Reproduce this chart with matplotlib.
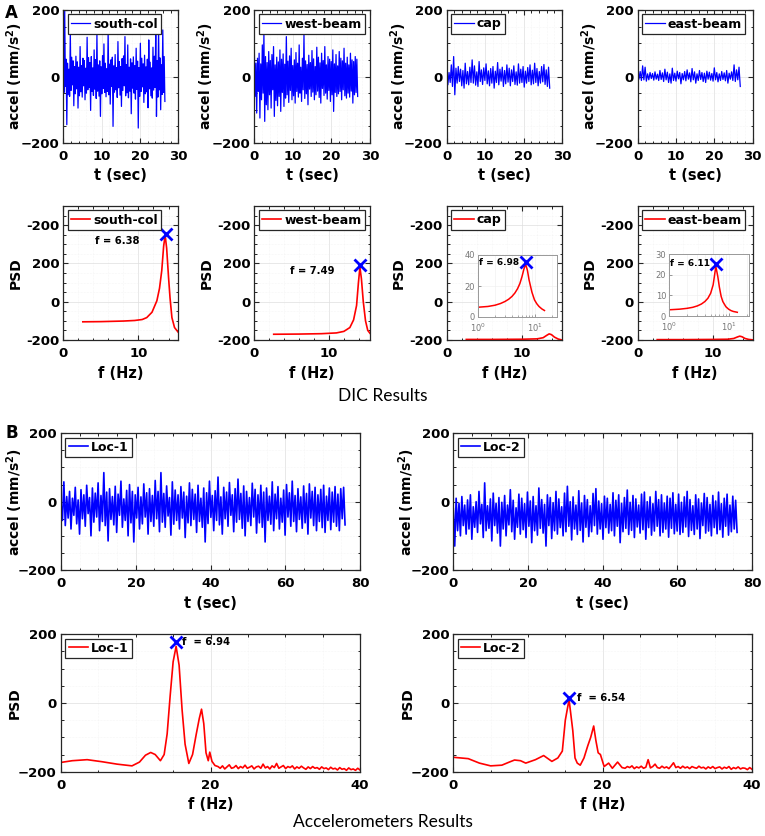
import numpy as np
import matplotlib
matplotlib.use("Agg")
import matplotlib.pyplot as plt
from matplotlib.ticker import AutoMinorLocator

plt.rcParams['font.family'] = 'DejaVu Sans'
plt.rcParams['font.weight'] = 'bold'
plt.rcParams['mathtext.fontset'] = 'dejavusans'
plt.rcParams['mathtext.default'] = 'bf'

# ---- DIC acceleration records (mm/s^2) ----
dic_names = ['south-col', 'west-beam', 'cap', 'east-beam']
dic_tend = [26.5, 26.8, 26.8, 26.8]

south_col = [
    35, -48, 200, -30, 52, -145, 40, -55, 22, -60,
    130, -42, 58, -25, 47, -88, 30, -52, 61, -37,
    44, -95, 28, -58, 90, -46, 33, -62, 55, -28,
    48, -70, 25, -50, 118, -40, 57, -33, 42, -102,
    60, -45, 26, -57, 80, -38, 51, -66, 130, -44,
    35, -59, 47, -120, 29, -52, 63, -36, 98, -48,
    40, -61, 24, -45, 140, -55, 37, -83, 50, -30,
    58, -150, 32, -47, 66, -40, 27, -63, 105, -34,
    45, -56, 30, -90, 54, -42, 62, -28, 120, -58,
    36, -49, 95, -64, 28, -44, 53, -112, 41, -35,
    59, -50, 33, -68, 85, -39, 46, -155, 27, -60,
    100, -45, 55, -31, 38, -78, 64, -52, 29, -46,
    52, -94, 110, -37, 43, -58, 26, -65, 88, -41,
    61, -33, 150, -120, 48, -62, 145, -40, 56, -100,
    35, -54, 140, -48, 60, -75]

west_beam = [
    85, -60, 40, -110, 55, -45, 70, -125, 38, -70,
    95, -50, 130, -135, 60, -85, 42, -100, 75, -55,
    48, -95, 66, -40, 90, -120, 35, -72, 58, -88,
    44, -60, 80, -105, 52, -48, 68, -90, 37, -65,
    120, -55, 46, -78, 62, -42, 85, -70, 33, -58,
    50, -80, 72, -45, 40, -62, 95, -50, 28, -75,
    55, -40, 125, -66, 47, -52, 36, -85, 64, -38,
    42, -60, 78, -47, 53, -70, 30, -55, 88, -44,
    58, -63, 41, -80, 70, -36, 48, -57, 90, -50,
    35, -68, 60, -42, 52, -75, 45, -55, 80, -105,
    38, -48, 66, -60, 32, -52, 75, -45, 55, -70,
    47, -40, 85, -58, 40, -65, 58, -50, 35, -62,
    70, -44, 50, -80, 45, -55, 60, -48, 52, -60]

cap = [
    20, -25, 12, -18, 35, -30, 60, -55, 25, -20,
    30, -15, 22, -28, 18, -35, 40, -22, 15, -25,
    28, -18, 50, -20, 32, -26, 14, -30, 45, -15,
    20, -24, 26, -12, 38, -22, 17, -28, 24, -20,
    30, -35, 16, -18, 42, -25, 22, -14, 28, -30,
    18, -22, 35, -17, 25, -28, 20, -15, 32, -24,
    14, -26, 38, -20, 22, -18, 30, -32, 16, -20,
    27, -15, 35, -25, 19, -22, 40, -18, 24, -28,
    15, -20, 30, -16, 36, -24, 20, -30, 28, -35]

east_beam = [
    10, -8, 15, -12, 32, -10, 28, -14, 8, -10,
    12, -6, 9, -11, 14, -8, 7, -12, 18, -9,
    11, -15, 22, -10, 13, -18, 8, -20, 25, -12,
    10, -14, 16, -7, 12, -22, 9, -10, 15, -13,
    20, -8, 11, -16, 24, -10, 14, -20, 8, -12,
    18, -9, 12, -15, 10, -18, 16, -8, 13, -11,
    9, -14, 26, -10, 12, -16, 8, -12, 15, -9,
    11, -13, 18, -20, 10, -8, 14, -12, 35, -15,
    20, -10, 28, -30]

# ---- DIC PSD curves ----
sc_f = [2.6, 5, 8, 9.5, 10.5, 11.1, 11.8, 12.45, 12.8, 13.1, 13.35, 13.55, 13.75, 14.0, 14.2, 14.45, 14.8, 15.3]
sc_p = [-105, -104, -101, -98, -93, -83, -55, 5, 70, 163, 290, 347, 280, 128, 20, -83, -135, -160]
wb_f = [2.6, 6, 9, 11, 12, 12.8, 13.3, 13.7, 13.95, 14.15, 14.35, 14.6, 14.9, 15.2, 15.5]
wb_p = [-170, -169, -167, -163, -155, -135, -95, -20, 100, 180, 120, 0, -100, -150, -165]
cp_f = [2.6, 6, 10, 12, 12.8, 13.3, 13.6, 13.9, 14.3, 14.8, 15.3]
cp_p = [-197, -197, -196, -194, -188, -175, -168, -172, -185, -195, -200]
eb_f = [2.6, 6, 10, 12, 12.8, 13.3, 13.6, 13.9, 14.3, 14.8, 15.3]
eb_p = [-198, -198, -197, -196, -192, -184, -180, -183, -192, -197, -199]
dic_xmax = [15.3, 15.5, 15.3, 15.3]
dic_peak = [(13.6, 356), (14.2, 190), None, None]
dic_ftext = ['f = 6.38', 'f = 7.49', None, None]
dic_ftext_pos = [(7.2, 316), (7.75, 159), None, None]

# insets (log-frequency zoom of cap and east-beam)
cap_in_f = [1, 1.5, 2, 2.5, 3, 3.5, 4, 4.5, 5, 5.5, 6, 6.5, 6.98, 7.5, 8, 9, 10, 11, 12, 13.5, 15]
cap_in_p = [6.3, 6.8, 7.6, 8.7, 10, 11.5, 13.3, 15.5, 18.2, 21.5, 26, 31, 34, 30, 24, 16, 11, 8.5, 6.8, 5.2, 4.2]
eb_in_f = [1, 1.5, 2, 2.5, 3, 3.5, 4, 4.5, 5, 5.5, 6.11, 6.6, 7, 7.5, 8, 9, 10, 11, 12, 14]
eb_in_p = [3.0, 3.3, 3.7, 4.2, 4.9, 5.8, 7.0, 8.6, 11, 15, 24, 19, 14, 9.5, 7, 4.5, 3.3, 2.6, 2.2, 1.8]

# ---- Accelerometer records ----
loc1 = [
    -5, -55, 58, -70, 15, -48, 30, -80, 10, -40,
    42, -65, 5, -95, 35, -50, 20, -72, 48, -35,
    12, -100, 40, -60, 25, -45, 55, -85, 18, -58,
    85, -70, 28, -115, 38, -52, 15, -68, 45, -90,
    22, -40, 60, -75, 8, -55, 33, -100, 50, -62,
    30, -118, 20, -48, 42, -80, 14, -65, 52, -45,
    26, -95, 38, -58, 18, -72, 62, -50, 30, -88,
    85, -60, 24, -75, 46, -42, 12, -98, 58, -66,
    34, -55, 20, -80, 44, -48, 28, -105, 16, -62,
    55, -70, 36, -52, 22, -90, 48, -58, 10, -75,
    40, -118, 26, -64, 60, -46, 18, -85, 32, -55,
    72, -68, 14, -95, 42, -50, 28, -72, 56, -40,
    20, -88, 38, -60, 66, -52, 24, -78, 46, -100,
    30, -58, 12, -70, 54, -45, 36, -92, 20, -62,
    48, -75, 28, -118, 40, -55, 16, -66, 58, -85,
    22, -50, 44, -80, 10, -60, 34, -98, 50, -45,
    26, -72, 60, -58, 18, -88, 38, -52, 14, -78,
    46, -62, 24, -95, 52, -48, 30, -70, 42, -85,
    20, -58, 36, -76, 48, -90, 16, -55, 40, -82,
    28, -60, 44, -72, 22, -85, 38, -50, 42, -68]

loc2 = [
    -20, -130, 10, -85, -5, -100, 15, -70, -10, -95,
    5, -80, 20, -110, -15, -75, 0, -90, 30, -65,
    -8, -105, 55, -85, -12, -78, 8, -115, 25, -70,
    -5, -92, 12, -130, -2, -80, 18, -100, -10, -68,
    35, -88, 4, -110, -18, -75, 22, -95, 10, -82,
    -6, -105, 28, -72, 2, -120, 15, -85, -12, -98,
    40, -78, 6, -92, -8, -130, 20, -70, 12, -108,
    -3, -85, 30, -95, 8, -76, -15, -100, 25, -88,
    45, -72, 0, -112, 14, -80, -10, -96, 32, -84,
    -4, -118, 18, -75, 6, -102, -12, -88, 24, -70,
    38, -95, 2, -80, -6, -110, 16, -76, 10, -92,
    -8, -85, 26, -100, 4, -72, 20, -120, -5, -88,
    12, -78, 34, -96, -2, -84, 18, -105, 8, -74,
    -10, -92, 22, -82, 28, -110, 0, -76, 14, -98,
    -6, -86, 30, -72, 6, -100, 20, -90, -4, -80,
    16, -104, 10, -78, 26, -94, -8, -86, 22, -96,
    -2, -90, 14, -74, 30, -102, 6, -84, -12, -96,
    20, -80, 8, -108, -4, -70, 24, -92, 12, -86,
    -8, -100, 18, -76, 2, -94, 28, -82, -6, -104,
    10, -72, 22, -98, -10, -88, 16, -80, 4, -90]

loc1_f = [0, 1.5, 3.5, 5.5, 7.5, 9.5, 10.5, 11.3, 12.0, 12.6, 13.3, 13.8, 14.2, 14.6, 15.0, 15.4,
          15.8, 16.2, 16.6, 17.1, 17.6, 18.1, 18.5, 18.8, 19.1, 19.4, 19.7, 19.9, 20.2, 20.6]
loc1_p = [-173, -168, -165, -171, -178, -183, -172, -152, -144, -150, -168, -150, -90, 20, 120, 165,
          110, -20, -120, -176, -150, -90, -45, -18, -60, -145, -168, -143, -170, -182]
loc1_tail = [-185, -190, -183, -192, -186, -180, -190, -188, -182, -191, -185, -189, -181, -190, -187, -183,
             -192, -186, -184, -190, -178, -189, -185, -192, -183, -188, -176, -190, -186, -182, -191, -185,
             -188, -183, -192, -186, -190, -184, -189, -193, -186, -191, -185, -190, -188, -193, -186, -191,
             -189, -194, -187, -192, -190, -195, -188, -193, -191, -196, -189, -194, -192, -196, -190, -195]
loc2_f = [0, 2, 3.5, 5, 6.5, 7.5, 8.2, 9, 9.7, 11, 12.1, 13.2, 14, 14.6, 15.0, 15.5, 16.0, 16.3, 16.6,
          17.0, 17.5, 18.0, 18.4, 18.8, 19.1, 19.4, 19.7, 20.2, 20.8, 21.3, 22.0, 22.6]
loc2_p = [-158, -162, -175, -183, -181, -172, -166, -168, -175, -165, -153, -170, -160, -140, -50, 10,
          -80, -160, -175, -181, -160, -125, -100, -67, -110, -145, -150, -185, -175, -190, -172, -188]
loc2_tail = [-190, -185, -188, -183, -191, -186, -189, -184, -190, -187, -165, -189, -185, -178, -188, -190,
             -184, -189, -186, -191, -183, -174, -188, -185, -190, -184, -189, -186, -191, -185, -188, -190,
             -184, -189, -187, -192, -186, -190, -185, -191, -188, -186, -192, -187, -190, -185, -193, -188,
             -191, -186, -192, -189, -190, -194, -188, -193]

W, H = 765, 836
fig = plt.figure(figsize=(W / 100, H / 100), dpi=100)


def box(x0, x1, y0, y1):
    return [x0 / W, 1 - y1 / H, (x1 - x0) / W, (y1 - y0) / H]


def style(ax, x0, x1, xlab, ylab, ylab_x):
    ax.tick_params(direction='in', top=True, right=True, length=3.5, width=0.8,
                   labelsize=9.5, pad=3, colors='#262626', labelcolor='black')
    ax.tick_params(axis='x', pad=5)
    ax.tick_params(which='minor', direction='in', top=True, right=True, length=1.8, width=0.6)
    ax.xaxis.set_minor_locator(AutoMinorLocator())
    ax.yaxis.set_minor_locator(AutoMinorLocator())
    ax.grid(True, which='major', color='#dedede', lw=0.5)
    ax.grid(True, which='minor', color='#eeeeee', lw=0.4, ls=':')
    ax.set_axisbelow(True)
    for s in ax.spines.values():
        s.set_linewidth(0.9)
        s.set_color('#262626')
    for lb in ax.get_xticklabels() + ax.get_yticklabels():
        lb.set_fontweight('bold')
    ax.set_xlabel(xlab, fontsize=10.5, fontweight='bold', labelpad=4)
    ax.set_ylabel(ylab, fontsize=10, fontweight='bold')
    # ylabel anchor is its right edge (rotated text)
    ax.yaxis.set_label_coords((ylab_x - x0) / (x1 - x0), 0.5)


def legend(ax):
    leg = ax.legend(loc='upper left', prop={'size': 9, 'weight': 'bold'}, fancybox=False,
                    edgecolor='#262626', framealpha=1, handlelength=1.55, handletextpad=0.25,
                    borderpad=0.25, borderaxespad=0.35)
    leg.get_frame().set_linewidth(0.9)


xcols = [(63.3, 178.3), (254.3, 370), (446.7, 562), (637.7, 752.5)]
dic_acc = [south_col, west_beam, cap, east_beam]
dic_psd = [(sc_f, sc_p), (wb_f, wb_p), (cp_f, cp_p), (eb_f, eb_p)]

for i in range(4):
    x0, x1 = xcols[i]
    # time history
    ax = fig.add_axes(box(x0, x1, 10, 143))
    t = np.linspace(0, dic_tend[i], len(dic_acc[i]))
    ax.plot(t, dic_acc[i], color='#0000ff', lw=0.9, label=dic_names[i])
    ax.set_xlim(0, 30)
    ax.set_ylim(-200, 200)
    ax.set_xticks([0, 10, 20, 30])
    ax.set_yticks([-200, 0, 200])
    style(ax, x0, x1, 't (sec)', 'accel (mm/s$^2$)', x0 - 38)
    legend(ax)

    # PSD
    ax = fig.add_axes(box(x0, x1, 206, 340))
    f, p = dic_psd[i]
    ax.plot(f, p, color='red', lw=1.2, label=dic_names[i])
    ax.set_xlim(0, dic_xmax[i])
    ax.set_ylim(-200, 500)
    ax.set_xticks([0, 10])
    ax.set_yticks([-200, 0, 200, 400])
    ax.set_yticklabels(['-200', '0', '200', '-200'])
    style(ax, x0, x1, 'f (Hz)', 'PSD', x0 - 41)
    if dic_peak[i] is not None:
        ax.plot(*dic_peak[i], marker='x', color='blue', ms=8, mew=2)
        ax.text(*dic_ftext_pos[i], dic_ftext[i], fontsize=7.2, fontweight='bold',
                ha='center', va='center')
    legend(ax)

# insets
insets = [(box(478, 557, 255, 317), cap_in_f, cap_in_p, 40, [0, 20, 40], 25, 'f = 6.98'),
          (box(669, 749, 254, 316), eb_in_f, eb_in_p, 30, [0, 10, 20, 30], 22, 'f = 6.11')]
for pos, f, p, ymax, yt, xmax, lab in insets:
    ax = fig.add_axes(pos)
    ax.plot(f, p, color='red', lw=1.1)
    pk = int(np.argmax(p))
    ax.plot(f[pk], p[pk] + 1.2, marker='x', color='blue', ms=8, mew=2)
    ax.text(1.05, p[pk] + 1.2, lab, fontsize=6.5, fontweight='bold', ha='left', va='center')
    ax.set_xscale('log')
    ax.set_xlim(1, xmax)
    ax.set_ylim(0, ymax)
    ax.set_yticks(yt)
    ax.tick_params(direction='in', length=2.5, width=0.6, labelsize=6, colors='#888888',
                   labelcolor='#777777', pad=2)
    ax.tick_params(axis='x', pad=3)
    ax.tick_params(which='minor', direction='in', length=1.5, width=0.5, colors='#888888')
    for lb in ax.get_xticklabels() + ax.get_yticklabels():
        lb.set_fontweight('normal')
    ax.grid(True, which='both', color='#eeeeee', lw=0.4)
    ax.set_axisbelow(True)
    for s in ax.spines.values():
        s.set_linewidth(0.7)
        s.set_color('#999999')

# accelerometers
xcols2 = [(61, 360), (453.3, 752)]
loc_acc = [loc1, loc2]
loc_names = ['Loc-1', 'Loc-2']
loc_psd = [(loc1_f + list(np.linspace(21, 40, len(loc1_tail))), loc1_p + loc1_tail),
           (loc2_f + list(np.linspace(23, 40, len(loc2_tail))), loc2_p + loc2_tail)]
loc_peak = [(15.4, 178), (15.5, 15)]
loc_ftext = ['f  = 6.94', 'f  = 6.54']
loc_ftext_x = [16.2, 16.5]

for i in range(2):
    x0, x1 = xcols2[i]
    ax = fig.add_axes(box(x0, x1, 433.3, 570))
    t = np.linspace(0, 76, len(loc_acc[i]))
    ax.plot(t, loc_acc[i], color='#0000ff', lw=1.2, label=loc_names[i])
    ax.set_xlim(0, 80)
    ax.set_ylim(-200, 200)
    ax.set_xticks([0, 20, 40, 60, 80])
    ax.set_yticks([-200, 0, 200])
    style(ax, x0, x1, 't (sec)', 'accel (mm/s$^2$)', x0 - 36)
    legend(ax)

    ax = fig.add_axes(box(x0, x1, 634.3, 771.7))
    f, p = loc_psd[i]
    ax.plot(f, p, color='red', lw=1.2, label=loc_names[i])
    ax.plot(*loc_peak[i], marker='x', color='blue', ms=8, mew=2)
    ax.text(loc_ftext_x[i], loc_peak[i][1], loc_ftext[i], fontsize=7.2, fontweight='bold',
            ha='left', va='center')
    ax.set_xlim(0, 40)
    ax.set_ylim(-200, 200)
    ax.set_xticks([0, 20, 40])
    ax.set_yticks([-200, 0, 200])
    style(ax, x0, x1, 'f (Hz)', 'PSD', x0 - 39)
    legend(ax)

fig.text(11 / W, 1 - 13 / H, 'A', fontsize=12, fontweight='bold', ha='center', va='center')
fig.text(12 / W, 1 - 433 / H, 'B', fontsize=12, fontweight='bold', ha='center', va='center')
fig.text(383 / W, 1 - 396 / H, 'DIC Results', fontsize=12.5, family='Lato',
         weight='normal', ha='center', va='center')
fig.text(383 / W, 1 - 822 / H, 'Accelerometers Results', fontsize=12.5, family='Lato',
         weight='normal', ha='center', va='center')

fig.savefig('out.png', dpi=100)
